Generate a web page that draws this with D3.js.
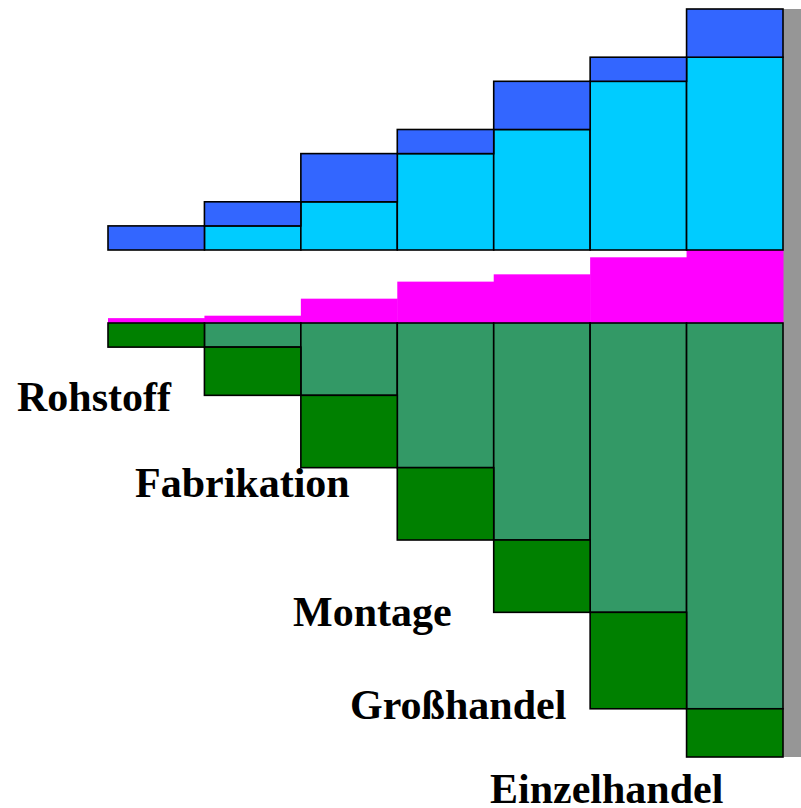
<!DOCTYPE html>
<html>
<head>
<meta charset="utf-8">
<script src="https://cdn.jsdelivr.net/npm/d3@7"></script>
<style>
  body { margin: 0; background: #fff; }
  svg { display: block; }
  .lbl { font-family: "Liberation Serif", "Times New Roman", serif; font-weight: bold; font-size: 42px; fill: #000; }
</style>
</head>
<body>
<svg id="chart" width="801" height="808"></svg>
<script>
// columns of the chain
var columns = ["c1", "c2", "c3", "c4", "c5", "c6", "c7"];
// upper stack (light = carried over, dark = added)
var cyanVals = [0, 1, 2, 4, 5, 7, 8];
var blueVals = [1, 1, 2, 1, 2, 1, 2];
// middle band
var pinkVals = [0.2, 0.3, 1, 1.7, 2, 2.7, 3];
// lower stack (sea green = carried over, green = added)
var seaVals = [0, 1, 3, 6, 9, 12, 16];
var greenVals = [1, 2, 3, 3, 3, 4, 2];
// stage labels
var stageLabels = ["Rohstoff", "Fabrikation", "Montage", "Großhandel", "Einzelhandel"];

var svg = d3.select("#chart");

var x = d3.scaleBand().domain(columns).range([108, 783]).padding(0);
var yTop = d3.scaleLinear().domain([0, 10]).range([250, 9]);
var yBot = d3.scaleLinear().domain([0, 18]).range([323, 757]);
var yPink = d3.scaleLinear().domain([0, 3]).range([323, 250]);

// gray bar on the right
svg.append("rect")
    .attr("x", x.range()[1]).attr("y", yTop(10))
    .attr("width", 801 - x.range()[1]).attr("height", yBot(18) - yTop(10))
    .attr("fill", "#969696");

// pink band, no outline
svg.selectAll(".pink").data(columns).enter().append("rect")
    .attr("class", "pink")
    .attr("x", function (d) { return x(d); })
    .attr("y", function (d, i) { return yPink(pinkVals[i]); })
    .attr("width", x.bandwidth() + 0.5)
    .attr("height", function (d, i) { return yPink(0) - yPink(pinkVals[i]); })
    .attr("fill", "#FF00FF");

function stack(cls, base, vals, scale, color) {
    svg.selectAll("." + cls).data(columns).enter()
        .filter(function (d, i) { return vals[i] > 0; })
        .append("rect")
        .attr("class", cls)
        .attr("x", function (d) { return x(d); })
        .attr("y", function (d) {
            var i = columns.indexOf(d);
            return Math.min(scale(base[i]), scale(base[i] + vals[i]));
        })
        .attr("width", x.bandwidth())
        .attr("height", function (d) {
            var i = columns.indexOf(d);
            return Math.abs(scale(base[i] + vals[i]) - scale(base[i]));
        })
        .attr("fill", color)
        .attr("stroke", "#000")
        .attr("stroke-width", 1.6);
}

var zeros = columns.map(function () { return 0; });
stack("cyan", zeros, cyanVals, yTop, "#00CCFF");
stack("blue", cyanVals, blueVals, yTop, "#3366FF");
stack("sea", zeros, seaVals, yBot, "#339966");
stack("green", seaVals, greenVals, yBot, "#008000");

// labels
var labelPos = [[17, 411], [135, 497], [293, 626], [350, 719], [490, 803]];
svg.selectAll(".lbl").data(stageLabels).enter().append("text")
    .attr("class", "lbl")
    .attr("x", function (d, i) { return labelPos[i][0]; })
    .attr("y", function (d, i) { return labelPos[i][1]; })
    .text(function (d) { return d; });
</script>
</body>
</html>
